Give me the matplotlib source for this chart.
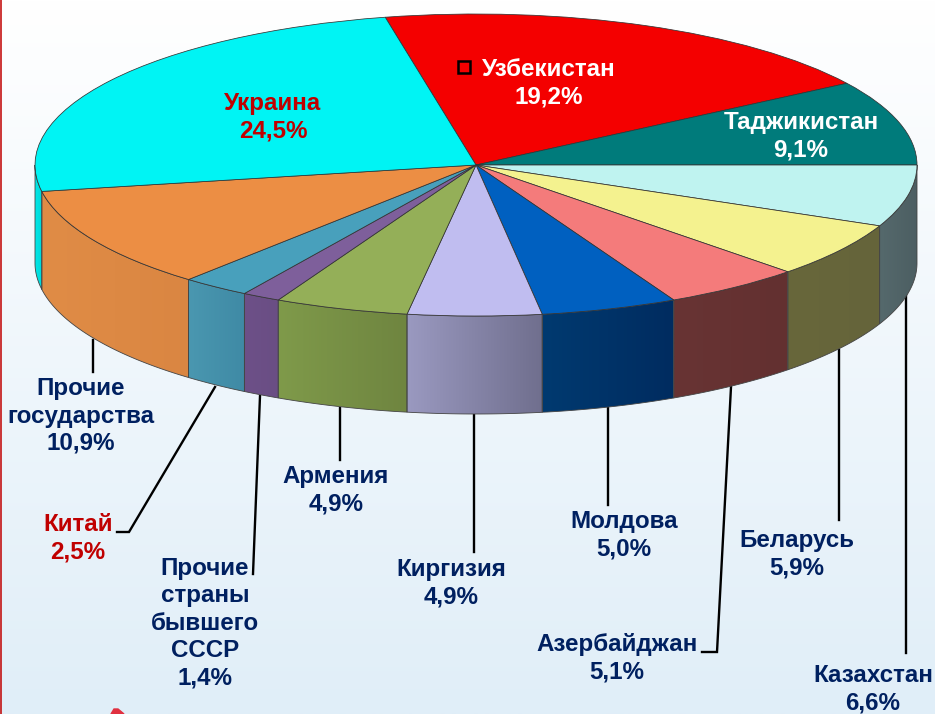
import numpy as np
import matplotlib
matplotlib.use("Agg")
import matplotlib.pyplot as plt
from matplotlib.colors import to_rgb
from matplotlib.patches import Polygon
from matplotlib.transforms import Affine2D

# data, clockwise from the Ukraine / Uzbekistan border
names = ['Узбекистан', 'Таджикистан', 'Казахстан', 'Беларусь', 'Азербайджан', 'Молдова',
         'Киргизия', 'Армения', 'Прочие\nстраны\nбывшего\nСССР', 'Китай',
         'Прочие\nгосударства', 'Украина']
shares = [19.2, 9.1, 6.6, 5.9, 5.1, 5.0, 4.9, 4.9, 1.4, 2.5, 10.9, 24.5]
share_labels = ['19,2%', '9,1%', '6,6%', '5,9%', '5,1%', '5,0%', '4,9%', '4,9%', '1,4%', '2,5%', '10,9%', '24,5%']

top_colors = ['#f40000', '#007b7b', '#bff3f0', '#f4f28f', '#f47b7b', '#0060c0',
              '#c0bdf0', '#94af58', '#7e5f9b', '#48a0bc', '#ec8e44', '#00f4f4']
side_left = ['#c00000', '#006060', '#55696c', '#68673b', '#683434', '#003a70',
             '#9a99c0', '#7f9a4a', '#6d5088', '#4a97b0', '#e08c46', '#00e8e8']
side_right = ['#c00000', '#006060', '#4c5e62', '#65643a', '#633030', '#002c60',
              '#706f8e', '#6f8540', '#6a4e84', '#3f8aa5', '#da8642', '#00d8d8']
text_colors = ['white', 'white', '#002060', '#002060', '#002060', '#002060',
               '#002060', '#002060', '#002060', '#c00000', '#002060', '#c00000']

# label centres in picture pixels
label_xy = [(549, 83), (801, 136), (873, 689), (797, 554), (617, 658), (624, 535),
            (451, 583), (336, 490), (205, 623), (78, 538), (81, 416), (273, 117)]

# leader lines in picture pixels
leaders = [[(93, 340), (93, 372)],
           [(117, 532), (129, 532), (215, 387)],
           [(260, 396), (253, 574)],
           [(340, 408), (340, 460)],
           [(474, 414), (474, 552)],
           [(608, 408), (608, 505)],
           [(839, 350), (839, 520)],
           [(731, 387), (717, 652), (702, 652)],
           [(906, 295), (906, 653)]]

cx, cy, rx, ry = 476, 165, 441, 151
depth = 98
start_angle = 101.88

plt.rcParams['font.family'] = ['Liberation Sans', 'DejaVu Sans']

fig = plt.figure(figsize=(9.35, 7.14), dpi=100)
ax = fig.add_axes([0, 0, 1, 1])

# background wash
bg = np.linspace(to_rgb('#ffffff'), to_rgb('#e0eef8'), 256).reshape(256, 1, 3)
ax.imshow(bg, extent=[0, 935, 714, 0], aspect='auto', zorder=0)
ax.plot([0.7, 0.7], [0, 714], color='#c00000', lw=1.1, zorder=1)
ax.add_patch(Polygon([(111, 714), (114, 709), (118, 709), (124, 714)], color='#e03040', zorder=1))

for pts in leaders:
    xs, ys = zip(*pts)
    ax.plot(xs, ys, color='black', lw=1.7, zorder=2, solid_joinstyle='miter')

# front wall, one gradient piece per slice
ends = start_angle - np.cumsum(shares) * 3.6
starts = np.r_[start_angle, ends[:-1]]
for t1, t2, c1, c2 in zip(starts, ends, side_left, side_right):
    a = max(t2, -180)
    b = min(t1, 0)
    if a >= b:
        continue
    t = np.radians(np.linspace(a, b, 60))
    xs = cx + rx * np.cos(t)
    ys = cy - ry * np.sin(t)
    poly = np.r_[np.c_[xs, ys], np.c_[xs[::-1], ys[::-1] + depth]]
    patch = Polygon(poly, closed=True, transform=ax.transData, facecolor='none',
                    edgecolor='#444444', lw=0.6, zorder=4)
    grad = np.linspace(to_rgb(c1), to_rgb(c2), 64).reshape(1, 64, 3)
    im = ax.imshow(grad, extent=[xs.min(), xs.max(), ys.max() + depth, ys.min()],
                   aspect='auto', zorder=3)
    im.set_clip_path(patch)
    ax.add_patch(patch)

# top face, pie squeezed into an ellipse
wedges, _ = ax.pie(shares, colors=top_colors, startangle=start_angle, counterclock=False,
                   wedgeprops=dict(edgecolor='#333333', linewidth=0.55))
squeeze = Affine2D().scale(rx, -ry).translate(cx, cy) + ax.transData
for w in wedges:
    w.set_transform(squeeze)
    w.set_zorder(5)

ax.plot([464], [67], marker='s', ms=9, mfc='#f40000', mec='black', mew=1.8, zorder=6)

for name, lab, xy, col in zip(names, share_labels, label_xy, text_colors):
    ax.text(xy[0], xy[1], name + '\n' + lab, color=col, fontsize=17.4, fontweight='bold',
            ha='center', va='center', linespacing=1.24, zorder=7)

ax.set_aspect('auto')
ax.set_xlim(0, 935)
ax.set_ylim(714, 0)
ax.axis('off')

fig.savefig('out.png', dpi=100)
